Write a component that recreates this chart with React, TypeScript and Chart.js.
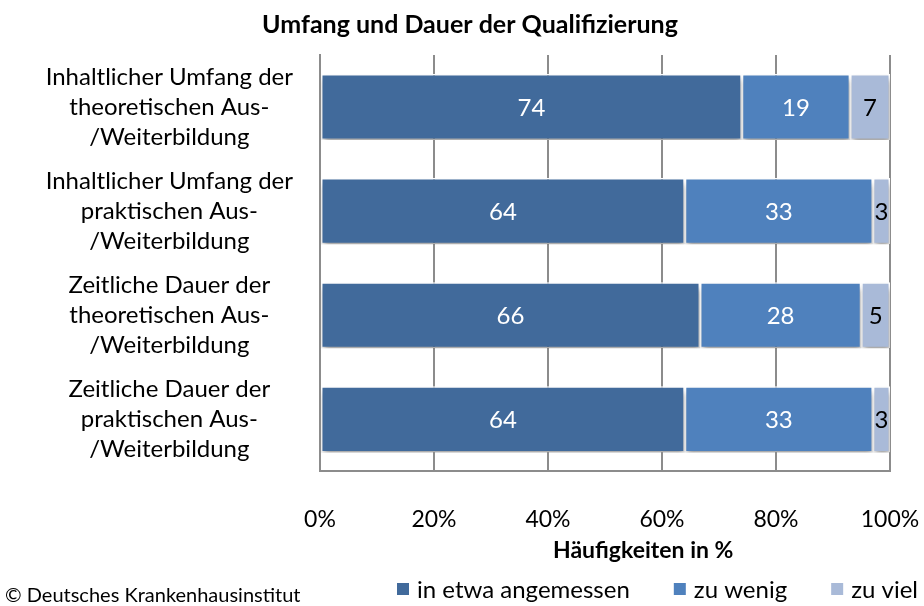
import React, { useEffect, useRef } from "react";
import { Chart, registerables } from "chart.js";

Chart.register(...registerables);

const categories: string[][] = [
  ["Inhaltlicher Umfang der", "theoretischen Aus-", "/Weiterbildung"],
  ["Inhaltlicher Umfang der", "praktischen Aus-", "/Weiterbildung"],
  ["Zeitliche Dauer der", "theoretischen Aus-", "/Weiterbildung"],
  ["Zeitliche Dauer der", "praktischen Aus-", "/Weiterbildung"],
];
const seriesNames = ["in etwa angemessen", "zu wenig", "zu viel"];
const angemessen = [74, 64, 66, 64];
const zuWenig = [19, 33, 28, 33];
const zuViel = [7, 3, 5, 3];
const xTicks = [0, 20, 40, 60, 80, 100];
const colors = ["#416A9B", "#4F81BD", "#A9BAD8"];
const labelColors = ["#ffffff", "#ffffff", "#000000"];
const chartTitle = "Umfang und Dauer der Qualifizierung";
const xTitle = "Häufigkeiten in %";
const sourceText = "© Deutsches Krankenhausinstitut";

const FONT = "Lato, 'Open Sans', sans-serif";
const GRID = "#8c8c8c";

export default function App() {
  const ref = useRef<HTMLCanvasElement | null>(null);

  useEffect(() => {
    if (!ref.current) return;
    const raw = [angemessen, zuWenig, zuViel];
    const totals = categories.map((_, i) => raw.reduce((s, arr) => s + arr[i], 0));

    const extras = {
      id: "extras",
      beforeDatasetsDraw(chart: any) {
        const ctx = chart.ctx;
        ctx.save();
        ctx.shadowColor = "rgba(0,0,0,0.35)";
        ctx.shadowBlur = 6;
        ctx.shadowOffsetX = 1;
        ctx.shadowOffsetY = 5;
      },
      afterDatasetsDraw(chart: any) {
        const ctx = chart.ctx;
        ctx.restore();
        ctx.save();
        ctx.font = `24px ${FONT}`;
        ctx.textAlign = "center";
        ctx.textBaseline = "middle";
        chart.data.datasets.forEach((ds: any, di: number) => {
          const meta = chart.getDatasetMeta(di);
          ctx.fillStyle = labelColors[di];
          meta.data.forEach((el: any, i: number) => {
            const x = (el.x + el.base) / 2;
            ctx.fillText(String(ds.rawValues[i]), x, el.y + 1);
          });
        });
        ctx.restore();
      },
      afterDraw(chart: any) {
        const ctx = chart.ctx;
        const area = chart.chartArea;
        ctx.save();
        ctx.fillStyle = "#000";
        ctx.textBaseline = "middle";
        ctx.textAlign = "center";
        ctx.font = `bold 25px ${FONT}`;
        ctx.fillText(chartTitle, 470, 25);
        ctx.font = `bold 23px ${FONT}`;
        ctx.fillText(xTitle, area.left + (area.right - area.left) * 0.567, 551);
        // legend
        ctx.font = `24px ${FONT}`;
        ctx.textAlign = "left";
        let x = 397;
        const y = 590;
        seriesNames.forEach((name, i) => {
          ctx.fillStyle = colors[i];
          ctx.fillRect(x, y - 7, 12, 12);
          ctx.fillStyle = "#000";
          ctx.fillText(name, x + 20, y);
          x += 20 + ctx.measureText(name).width + 44;
        });
        ctx.font = `20px ${FONT}`;
        ctx.fillText(sourceText, 5, 596);
        ctx.restore();
      },
    };

    const chart = new Chart(ref.current, {
      type: "bar",
      data: {
        labels: categories,
        datasets: raw.map((arr, di) => ({
          label: seriesNames[di],
          data: arr.map((v, i) => (v / totals[i]) * 100),
          rawValues: arr,
          backgroundColor: colors[di],
          borderColor: "#ffffff",
          borderWidth: 1.5,
          borderSkipped: false,
          categoryPercentage: 1,
          barPercentage: 0.635,
        })) as any,
      },
      options: {
        indexAxis: "y",
        animation: false,
        responsive: false,
        devicePixelRatio: 1,
        layout: { padding: { left: 8, right: 34, top: 55, bottom: 39 } },
        plugins: {
          legend: { display: false },
          tooltip: { enabled: false },
          title: { display: false },
        },
        scales: {
          x: {
            stacked: true,
            min: 0,
            max: 100,
            afterBuildTicks: (s: any) => {
              s.ticks = xTicks.map((v) => ({ value: v }));
            },
            ticks: {
              callback: (v: any) => `${v}%`,
              padding: 34,
              color: "#000",
              maxRotation: 0,
              font: { family: FONT, size: 23 },
            },
            grid: { color: GRID, lineWidth: 2, drawTicks: false },
            border: { color: GRID, width: 2 },
            afterFit: (s: any) => {
              s.paddingLeft = 0;
              s.paddingRight = 0;
            },
          },
          y: {
            stacked: true,
            grid: { display: false, drawTicks: false },
            border: { color: GRID, width: 2 },
            ticks: {
              autoSkip: false,
              crossAlign: "center",
              color: "#000",
              padding: 27,
              font: { family: FONT, size: 24, lineHeight: 1.25 },
            },
            afterFit: (s: any) => {
              s.width = 312;
              s.paddingTop = 0;
              s.paddingBottom = 0;
            },
          },
        },
      },
      plugins: [extras],
    } as any);
    return () => chart.destroy();
  }, []);

  return (
    <div style={{ position: "fixed", left: 0, top: 0, width: 924, height: 606, background: "#fff" }}>
      <canvas ref={ref} width={924} height={606} style={{ width: 924, height: 606, display: "block" }} />
    </div>
  );
}
